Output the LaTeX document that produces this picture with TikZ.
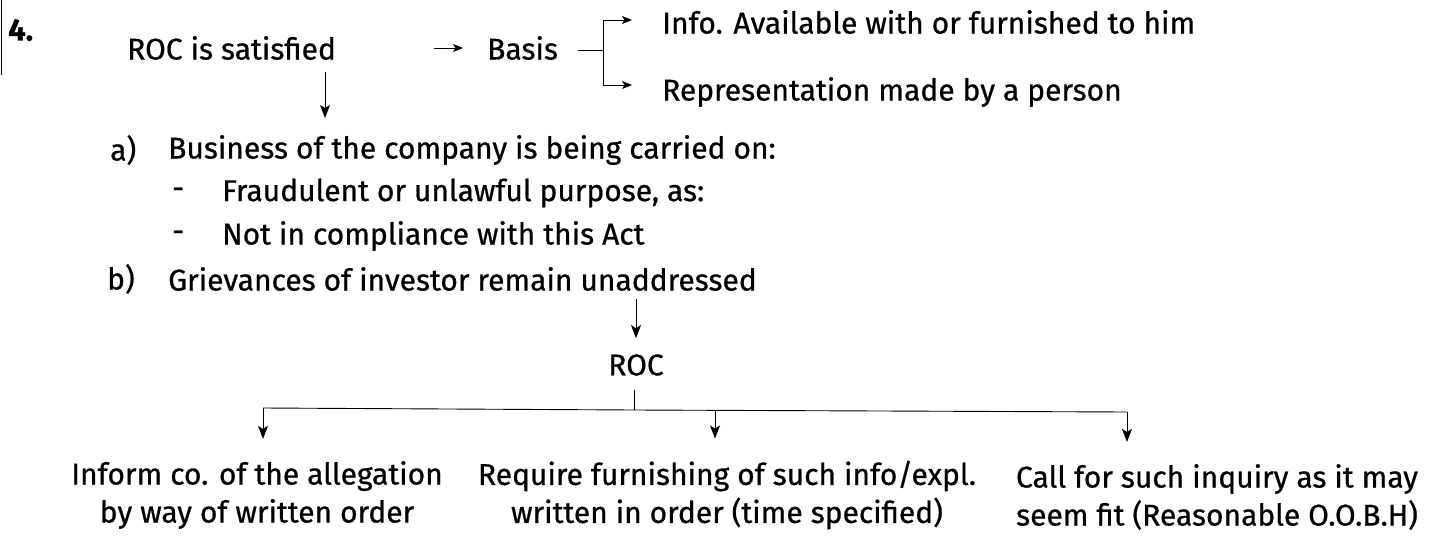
\documentclass[tikz,border=0pt]{standalone}
\usepackage{fontspec}
\setmainfont{Fira Sans}[FakeBold=0.7]
\usetikzlibrary{arrows.meta}
\begin{document}
\begin{tikzpicture}[x=1pt,y=-1pt,
  txt/.style={inner sep=0pt, font=\fontsize{30}{38}\selectfont},
  conn/.style={line width=0.9pt},
  arr/.style={conn,-{Stealth[length=13pt,width=10pt,inset=3pt]}},
  sarr/.style={conn,-{Stealth[length=10pt,width=8pt,inset=2.5pt]}}]
\useasboundingbox (0,0) rectangle (1429,543);
% left margin rule
\draw[conn] (1,0) -- (1,75);
\node[txt,anchor=west,font=\fontsize{31}{38}\selectfont\bfseries] (num) at (8,30) {4.};
\node[txt,anchor=west] (roc1) at (127,48) {ROC is satisfied};
\node[txt,anchor=west] (basis) at (487,48) {Basis};
\coordinate (br) at (603,50);
\coordinate (brt) at (603,20);
\coordinate (brb) at (603,85);
\node[txt,anchor=west] (info) at (662,22) {Info. Available with or furnished to him};
\node[txt,anchor=west] (rep) at (662,92) {Representation made by a person};
\draw[sarr, shorten <=98pt, shorten >=24pt] (roc1.east) -- (basis.west);
\draw[conn] ([xshift=20pt]basis.east |- br) -- (br);
\draw[conn] (brt) -- (brb);
\draw[sarr, shorten >=30pt] (brt) -- (info.west |- brt);
\draw[sarr, shorten >=30pt] (brb) -- (rep.west |- brb);
% list
\coordinate (dn) at (325,118);
\node[txt,anchor=west] (la) at (110,150) {a)};
\node[txt,anchor=west] (ta) at (168,150) {Business of the company is being carried on:};
\node[txt,anchor=west] (d1) at (172,193) {-};
\node[txt,anchor=west] (t1) at (222,193) {Fraudulent or unlawful purpose, as:};
\node[txt,anchor=west] (d2) at (172,236) {-};
\node[txt,anchor=west] (t2) at (222,236) {Not in compliance with this Act};
\node[txt,anchor=west] (lb) at (107,279) {b)};
\node[txt,anchor=west] (tb) at (168,279) {Grievances of investor remain unaddressed};
\draw[arr, shorten <=12pt] (roc1.south -| dn) -- (dn);
% ROC
\node[txt] (roc2) at (636,365) {ROC};
\draw[arr, shorten <=8pt, shorten >=16pt] (tb.south -| roc2.north) -- (roc2.north);
\coordinate (hub) at (634,410);
\coordinate (hl) at (263,408);
\coordinate (hm) at (715,410);
\coordinate (hr) at (1127,412);
\draw[conn, shorten <=14pt] (roc2.south -| hub) -- (hub);
\draw[conn] (hl) -- (hub) -- (hr);
\node[txt,align=center] (o1) at (257,495) {Inform co. of the allegation\\by way of written order};
\node[txt,align=center] (o2) at (727,495) {Require furnishing of such info/expl.\\written in order (time specified)};
\node[txt,align=center] (o3) at (1217,497) {Call for such inquiry as it may\\seem fit (Reasonable O.O.B.H)};
\draw[arr, shorten >=22pt] (hl) -- (hl |- o1.north);
\draw[arr, shorten >=22pt] (hm) -- (hm |- o2.north);
\draw[arr, shorten >=22pt] (hr) -- (hr |- o3.north);
\end{tikzpicture}
\end{document}
